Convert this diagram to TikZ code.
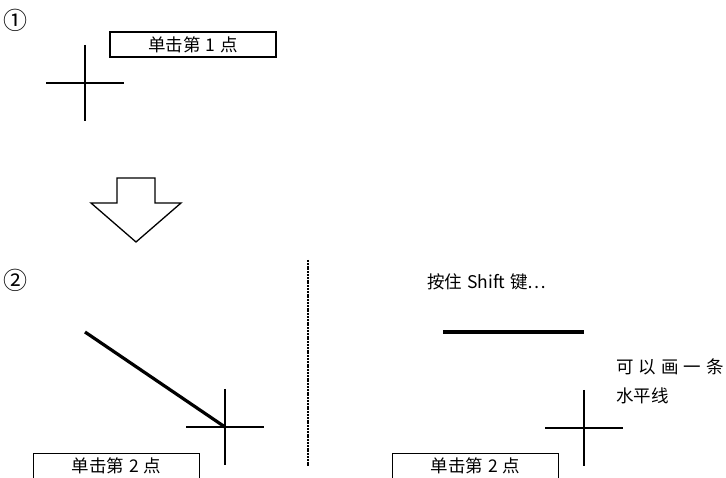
\documentclass[tikz,border=0pt]{standalone}
\usepackage{fontspec}
\newfontfamily\cjk{Noto Sans CJK SC}
\usetikzlibrary{positioning,calc}
\tikzset{
  hint/.style={draw, line width=1.4pt, minimum width=166pt, minimum height=25pt,
    inner sep=0pt, font=\cjk\fontsize{17.5}{18}\selectfont},
  note/.style={inner sep=0pt, font=\cjk\fontsize{17.5}{29}\selectfont},
  mark num/.style={inner sep=0pt, font=\cjk\fontsize{24}{24}\selectfont},
  hair/.style={line width=1.3pt},
  stroke/.style={line width=3.2pt},
}
\newcommand{\crosshair}[1]{%
  \draw[hair] ($(#1)+(0,-38)$) -- ($(#1)+(0,38)$);
  \draw[hair] ($(#1)+(-39,0)$) -- ($(#1)+(39,0)$);
}
\newcommand{\gap}{\hspace{5pt}}
\begin{document}
\begin{tikzpicture}[x=1pt,y=-1pt]
    \useasboundingbox (0,0) rectangle (726,478);
    \clip (0,0) rectangle (726,478);

    % Step 1: first click
    \node[mark num] (one) at (15,20) {①};
    \node[hint] (click1) at (193,44.5) {单击第\gap 1\gap 点};
    \coordinate (p1) at (85,83);
    \crosshair{p1}

    % Down arrow
    \draw[hair, fill=white] (117,178) -- (155,178) -- (155,203) -- (181,203)
      -- (136,242) -- (91,203) -- (117,203) -- cycle;

    % Step 2: second click, free direction
    \node[mark num] (two) at (15,280) {②};
    \coordinate (a0) at (85,332);
    \coordinate (p2) at (225,427);
    \draw[stroke] (a0) -- (p2);
    \crosshair{p2}
    \node[hint] (click2) at (116.5,466) {单击第\gap 2\gap 点};

    % Separator
    \coordinate (s0) at (308,260);
    \coordinate (s1) at (308,467);
    \draw[line width=2.6pt, dash pattern=on 2pt off 0.8pt] (s0) -- (s1);

    % Step 2 with Shift held
    \node[note, anchor=west] (shift) at (427,282) {按住\gap Shift\gap 键…};
    \coordinate (h0) at (443,332);
    \coordinate (p3) at (584,428);
    \draw[stroke] (h0) -- (h0 -| p3);
    \crosshair{p3}
    \node[note, anchor=north west, align=left] (result) at (616,359)
      {可\gap 以\gap 画\gap 一\gap 条\\水平线};
    \node[hint] (click3) at (475.5,466) {单击第\gap 2\gap 点};
\end{tikzpicture}
\end{document}
